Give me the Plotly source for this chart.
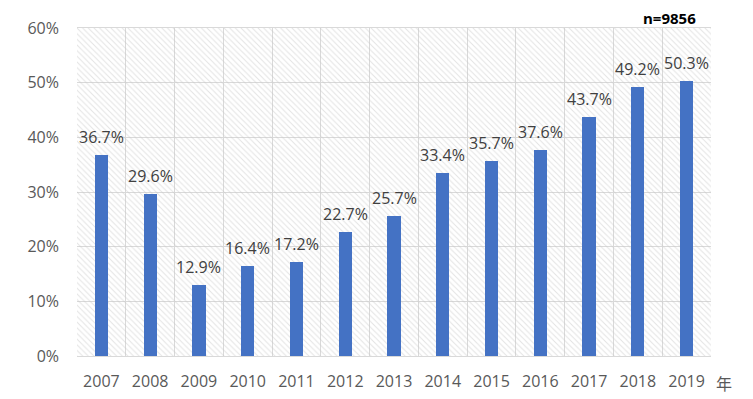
import plotly.graph_objects as go

years = ["2007", "2008", "2009", "2010", "2011", "2012", "2013",
         "2014", "2015", "2016", "2017", "2018", "2019"]
values = [0.367, 0.296, 0.129, 0.164, 0.172, 0.227, 0.257,
          0.334, 0.357, 0.376, 0.437, 0.492, 0.503]
y_ticks = [0, 0.1, 0.2, 0.3, 0.4, 0.5, 0.6]
sample_note = "n=9856"
unit_label = "年"

FONT = "Open Sans"
fig = go.Figure()

# hatched background on hidden base axes (0..1 each way)
fig.add_trace(go.Scatter(
    x=[0, 1, 1, 0, 0], y=[0, 0, 1, 1, 0], xaxis="x", yaxis="y",
    mode="lines", line=dict(width=0), fill="toself",
    fillcolor="rgba(0,0,0,0)",
    fillpattern=dict(shape="\\", fgcolor="#c8c8c8", bgcolor="rgba(0,0,0,0)",
                     size=4, solidity=0.25),
    hoverinfo="skip", showlegend=False,
))

fig.add_trace(go.Bar(
    x=years, y=values, width=0.27, xaxis="x2", yaxis="y2",
    marker=dict(color="#4472C4", line=dict(width=0)),
    showlegend=False,
))

for i, v in enumerate(values):
    fig.add_annotation(x=i, y=v, xref="x2", yref="y2", text=f"{v*100:.1f}%",
                       showarrow=False, yanchor="bottom", yshift=5,
                       font=dict(family=FONT, size=16, color="#404040"))

fig.add_annotation(xref="paper", yref="paper", x=0.934, y=1.0, xanchor="center",
                   yanchor="bottom", yshift=-1, borderpad=0,
                   text=f"<b>{sample_note}</b>", showarrow=False,
                   font=dict(family=FONT, size=15, color="#000000"))
fig.add_annotation(xref="paper", yref="paper", x=1.0, y=0, xanchor="left",
                   yanchor="top", xshift=3, yshift=-13,
                   text=unit_label, showarrow=False,
                   font=dict(family="Noto Sans CJK JP", size=16, color="#595959"))

fig.update_layout(
    width=753, height=399,
    margin=dict(l=69, r=50, t=20, b=51, autoexpand=False),
    paper_bgcolor="white", plot_bgcolor="white",
    bargap=0,
    font=dict(family=FONT, size=16, color="#595959"),
    xaxis=dict(range=[0, 1], visible=False, fixedrange=True, automargin=False),
    yaxis=dict(range=[0, 1], visible=False, fixedrange=True, automargin=False),
    xaxis2=dict(type="category", categoryorder="array", categoryarray=years,
                range=[-0.5, len(years) - 0.5], overlaying="x", anchor="y2",
                tickson="boundaries", showgrid=True, gridcolor="#d9d9d9",
                gridwidth=1, ticks="", showline=True, linecolor="#d9d9d9",
                mirror=True, ticklabelstandoff=11, tickangle=0, automargin=False,
                tickfont=dict(family=FONT, size=16, color="#595959")),
    yaxis2=dict(range=[0, 0.6], tickvals=y_ticks, tickformat=".0%",
                overlaying="y", anchor="x2", side="left",
                showgrid=True, gridcolor="#d9d9d9", gridwidth=1,
                zeroline=False, showline=False, ticks="", automargin=False,
                ticklabelstandoff=17,
                tickfont=dict(family=FONT, size=16, color="#595959")),
)

fig.write_html("out.html")
